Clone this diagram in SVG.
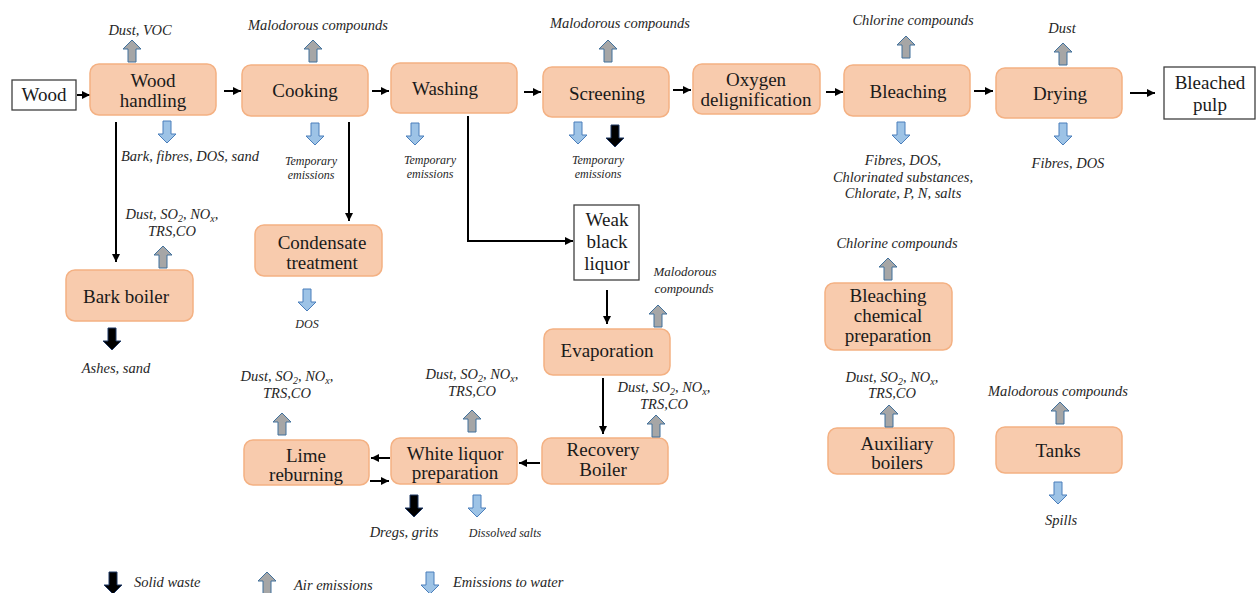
<svg xmlns="http://www.w3.org/2000/svg" xmlns:xlink="http://www.w3.org/1999/xlink" width="1257" height="593" viewBox="0 0 1257 593">
<style>
.node{fill:#F8CBAD;stroke:#F4B183;stroke-width:1.5}
.box{fill:#FFFFFF;stroke:#404040;stroke-width:1.3}
text{font-family:"Liberation Serif","DejaVu Serif","Times New Roman",Times,serif}
.nt{font-size:19px;fill:#1a1a1a;text-anchor:middle}
.lb{font-size:14.5px;font-style:italic;fill:#262626;text-anchor:middle}
.sm{font-size:12px;font-style:italic;fill:#262626;text-anchor:middle}
.lg{font-size:14.5px;font-style:italic;fill:#262626}
.sub{font-size:10px}
.air{fill:#A6A6A6;stroke:#41719C;stroke-width:1}
.water{fill:#9DC3E6;stroke:#4A7EBB;stroke-width:1}
.solid{fill:#000000;stroke:#1F3864;stroke-width:1}
.conn{fill:none;stroke:#000;stroke-width:2;marker-end:url(#ah)}
</style>
<defs>
<marker id="ah" markerUnits="userSpaceOnUse" markerWidth="9" markerHeight="8" refX="8" refY="4" orient="auto">
<path d="M0,0 L8,4 L0,8 Z" fill="#000"/>
</marker>
<path id="up" d="M-4,0 L-4,-13 L-9,-13 L0,-22 L9,-13 L4,-13 L4,0 Z"/>
<path id="down" d="M-4,0 L-4,13 L-9,13 L0,22 L9,13 L4,13 L4,0 Z"/>
</defs>
<rect width="1257" height="593" fill="#FFFFFF"/>

<g id="connectors">
<line class="conn" x1="77" y1="95" x2="90" y2="95"/>
<line class="conn" x1="224" y1="91" x2="241" y2="91"/>
<line class="conn" x1="372" y1="91" x2="389" y2="91"/>
<line class="conn" x1="524" y1="92" x2="541" y2="92"/>
<line class="conn" x1="673" y1="90" x2="691" y2="90"/>
<line class="conn" x1="826" y1="92" x2="843" y2="92"/>
<line class="conn" x1="974" y1="91" x2="993" y2="91"/>
<line class="conn" x1="1130" y1="93" x2="1155" y2="93"/>
<line class="conn" x1="116" y1="122" x2="116" y2="262"/>
<line class="conn" x1="349" y1="122" x2="349" y2="221"/>
<path class="conn" d="M468,116 V241 H573"/>
<line class="conn" x1="607" y1="290" x2="607" y2="324"/>
<line class="conn" x1="603" y1="378" x2="603" y2="434"/>
<line class="conn" x1="540" y1="463" x2="519" y2="463"/>
<line class="conn" x1="390" y1="458" x2="371" y2="458"/>
<line class="conn" x1="370" y1="481" x2="389" y2="481"/>
</g>

<g id="wood">
<rect class="box" x="12" y="80" width="64" height="30"/>
<text class="nt" x="44" y="101">Wood</text>
</g>

<g id="wood-handling">
<rect class="node" x="90" y="64" width="126" height="51" rx="9"/>
<text class="nt" x="153" y="87">Wood</text>
<text class="nt" x="153" y="107">handling</text>
<use href="#up" class="air" x="132" y="62"/>
<text class="lb" x="140" y="35">Dust, VOC</text>
<use href="#down" class="water" x="167" y="121"/>
<text class="lb" x="190" y="161">Bark, fibres, DOS, sand</text>
</g>

<g id="cooking">
<rect class="node" x="242" y="65" width="126" height="51" rx="9"/>
<text class="nt" x="305" y="97">Cooking</text>
<use href="#up" class="air" x="313" y="62"/>
<text class="lb" x="318" y="30">Malodorous compounds</text>
<use href="#down" class="water" x="315" y="123"/>
<text class="sm" x="311" y="165">Temporary</text>
<text class="sm" x="311" y="179">emissions</text>
</g>

<g id="washing">
<rect class="node" x="391" y="63" width="126" height="50" rx="9"/>
<text class="nt" x="445" y="95">Washing</text>
<use href="#down" class="water" x="415" y="123"/>
<text class="sm" x="430" y="164">Temporary</text>
<text class="sm" x="430" y="178">emissions</text>
</g>

<g id="screening">
<rect class="node" x="543" y="67" width="126" height="50" rx="9"/>
<text class="nt" x="607" y="100">Screening</text>
<use href="#up" class="air" x="608" y="62"/>
<text class="lb" x="620" y="28">Malodorous compounds</text>
<use href="#down" class="water" x="578" y="122"/>
<use href="#down" class="solid" x="615" y="125"/>
<text class="sm" x="598" y="164">Temporary</text>
<text class="sm" x="598" y="178">emissions</text>
</g>

<g id="oxygen-delignification">
<rect class="node" x="693" y="64" width="127" height="50" rx="9"/>
<text class="nt" x="756" y="86">Oxygen</text>
<text class="nt" x="756" y="106">delignification</text>
</g>

<g id="bleaching">
<rect class="node" x="844" y="65" width="126" height="51" rx="9"/>
<text class="nt" x="908" y="98">Bleaching</text>
<use href="#up" class="air" x="906" y="58"/>
<text class="lb" x="913" y="25">Chlorine compounds</text>
<use href="#down" class="water" x="901" y="122"/>
<text class="lb" x="903" y="165">Fibres, DOS,</text>
<text class="lb" x="903" y="182">Chlorinated substances,</text>
<text class="lb" x="903" y="198">Chlorate, P, N, salts</text>
</g>

<g id="drying">
<rect class="node" x="996" y="68" width="126" height="50" rx="9"/>
<text class="nt" x="1060" y="100">Drying</text>
<use href="#up" class="air" x="1063" y="65"/>
<text class="lb" x="1062" y="33">Dust</text>
<use href="#down" class="water" x="1063" y="123"/>
<text class="lb" x="1068" y="168">Fibres, DOS</text>
</g>

<g id="bleached-pulp">
<rect class="box" x="1164" y="67" width="91" height="52"/>
<text class="nt" x="1210" y="89">Bleached</text>
<text class="nt" x="1210" y="111">pulp</text>
</g>

<g id="bark-boiler">
<rect class="node" x="66" y="270" width="127" height="51" rx="9"/>
<text class="nt" x="126" y="303">Bark boiler</text>
<use href="#up" class="air" x="163" y="268"/>
<text class="lb" x="172" y="219">Dust, SO<tspan class="sub" dy="3">2</tspan><tspan dy="-3">, NO</tspan><tspan class="sub" dy="3">x</tspan><tspan dy="-3">,</tspan></text>
<text class="lb" x="172" y="236">TRS,CO</text>
<use href="#down" class="solid" x="112" y="328"/>
<text class="lb" x="116" y="373">Ashes, sand</text>
</g>

<g id="condensate-treatment">
<rect class="node" x="255" y="225" width="127" height="51" rx="9"/>
<text class="nt" x="322" y="249">Condensate</text>
<text class="nt" x="322" y="269">treatment</text>
<use href="#down" class="water" x="307" y="289"/>
<text class="sm" x="307" y="328">DOS</text>
</g>

<g id="weak-black-liquor">
<rect class="box" x="574" y="205" width="65" height="75"/>
<text class="nt" x="607" y="226">Weak</text>
<text class="nt" x="607" y="248">black</text>
<text class="nt" x="607" y="270">liquor</text>
</g>

<g id="evaporation">
<rect class="node" x="544" y="329" width="126" height="46" rx="9"/>
<text class="nt" x="607" y="357">Evaporation</text>
<use href="#up" class="air" x="658" y="327"/>
<text class="sm" x="685" y="276" style="font-size:13px">Malodorous</text>
<text class="sm" x="684" y="293" style="font-size:13px">compounds</text>
</g>

<g id="recovery-boiler">
<rect class="node" x="542" y="438" width="126" height="46" rx="9"/>
<text class="nt" x="603" y="456">Recovery</text>
<text class="nt" x="603" y="476">Boiler</text>
<use href="#up" class="air" x="656" y="437"/>
<text class="lb" x="664" y="392">Dust, SO<tspan class="sub" dy="3">2</tspan><tspan dy="-3">, NO</tspan><tspan class="sub" dy="3">x</tspan><tspan dy="-3">,</tspan></text>
<text class="lb" x="664" y="409">TRS,CO</text>
</g>

<g id="white-liquor-preparation">
<rect class="node" x="391" y="438" width="126" height="46" rx="9"/>
<text class="nt" x="455" y="460">White liquor</text>
<text class="nt" x="455" y="479">preparation</text>
<use href="#up" class="air" x="472" y="432"/>
<text class="lb" x="472" y="379">Dust, SO<tspan class="sub" dy="3">2</tspan><tspan dy="-3">, NO</tspan><tspan class="sub" dy="3">x</tspan><tspan dy="-3">,</tspan></text>
<text class="lb" x="472" y="396">TRS,CO</text>
<use href="#down" class="solid" x="414" y="495"/>
<use href="#down" class="water" x="477" y="495"/>
<text class="lb" x="404" y="537">Dregs, grits</text>
<text class="sm" x="505" y="537">Dissolved salts</text>
</g>

<g id="lime-reburning">
<rect class="node" x="244" y="440" width="125" height="45" rx="9"/>
<text class="nt" x="306" y="462">Lime</text>
<text class="nt" x="306" y="481">reburning</text>
<use href="#up" class="air" x="282" y="435"/>
<text class="lb" x="287" y="381">Dust, SO<tspan class="sub" dy="3">2</tspan><tspan dy="-3">, NO</tspan><tspan class="sub" dy="3">x</tspan><tspan dy="-3">,</tspan></text>
<text class="lb" x="287" y="398">TRS,CO</text>
</g>

<g id="bleaching-chemical-preparation">
<rect class="node" x="825" y="283" width="127" height="67" rx="9"/>
<text class="nt" x="888" y="302">Bleaching</text>
<text class="nt" x="888" y="322">chemical</text>
<text class="nt" x="888" y="342">preparation</text>
<use href="#up" class="air" x="888" y="280"/>
<text class="lb" x="897" y="248">Chlorine compounds</text>
</g>

<g id="auxiliary-boilers">
<rect class="node" x="828" y="428" width="126" height="46" rx="9"/>
<text class="nt" x="897" y="450">Auxiliary</text>
<text class="nt" x="897" y="469">boilers</text>
<use href="#up" class="air" x="889" y="427"/>
<text class="lb" x="892" y="382">Dust, SO<tspan class="sub" dy="3">2</tspan><tspan dy="-3">, NO</tspan><tspan class="sub" dy="3">x</tspan><tspan dy="-3">,</tspan></text>
<text class="lb" x="892" y="398">TRS,CO</text>
</g>

<g id="tanks">
<rect class="node" x="996" y="427" width="126" height="46" rx="9"/>
<text class="nt" x="1058" y="457">Tanks</text>
<use href="#up" class="air" x="1060" y="424"/>
<text class="lb" x="1058" y="396">Malodorous compounds</text>
<use href="#down" class="water" x="1058" y="482"/>
<text class="lb" x="1061" y="525">Spills</text>
</g>

<g id="legend">
<use href="#down" class="solid" x="113" y="572"/>
<text class="lg" x="134" y="587">Solid waste</text>
<use href="#up" class="air" x="267" y="594"/>
<text class="lg" x="294" y="590">Air emissions</text>
<use href="#down" class="water" x="430" y="572"/>
<text class="lg" x="453" y="587">Emissions to water</text>
</g>
</svg>
